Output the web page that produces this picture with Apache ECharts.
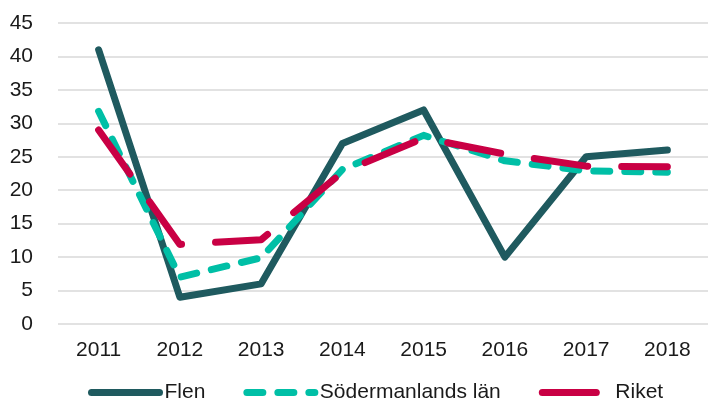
<!DOCTYPE html>
<html>
<head>
<meta charset="utf-8">
<script src="https://cdn.jsdelivr.net/npm/echarts@6/dist/echarts.min.js"></script>
<style>
  html, body { margin: 0; padding: 0; background: #fff; }
  #chart { width: 708px; height: 400px; }
</style>
</head>
<body>
<div id="chart"></div>
<script>
// years on the x axis
var years = ['2011', '2012', '2013', '2014', '2015', '2016', '2017', '2018'];

// values
var flen = [41, 4, 6, 27, 32, 10, 25, 26];
var sormland = [31.8, 7.0, 9.9, 23.1, 28.2, 24.4, 22.9, 22.7];
var riket = [29, 11.9, 12.6, 22.7, 27.8, 25.4, 23.6, 23.5];

var seriesNames = ['Flen', 'Södermanlands län', 'Riket'];

var font = 'Liberation Sans, Arial, sans-serif';

var chart = echarts.init(document.getElementById('chart'));

chart.setOption({
    animation: false,
    backgroundColor: '#fff',
    grid: { left: 58, right: -3, top: 23, bottom: 76 },
    legend: {
        data: seriesNames,
        left: 88,
        top: 382,
        padding: 0,
        itemWidth: 68,
        itemHeight: 14,
        itemGap: 38,
        itemStyle: { opacity: 0 },
        lineStyle: { width: 7 },
        textStyle: { fontFamily: font, fontSize: 21, color: '#1a1a1a' }
    },
    xAxis: {
        type: 'category',
        data: years,
        boundaryGap: true,
        axisLine: { show: false },
        axisTick: { show: false },
        axisLabel: { fontFamily: font, fontSize: 21, color: '#1a1a1a', margin: 16 }
    },
    yAxis: {
        type: 'value',
        min: 0,
        max: 45,
        interval: 5,
        axisLine: { show: false },
        axisTick: { show: false },
        axisLabel: { fontFamily: font, fontSize: 21, color: '#1a1a1a', margin: 25 },
        splitLine: { lineStyle: { color: '#d9d9d9', width: 1.5 } }
    },
    series: [
        {
            name: seriesNames[0],
            type: 'line',
            data: flen,
            symbol: 'none',
            lineStyle: { color: '#1f5a5f', width: 7, cap: 'round', join: 'round' },
            itemStyle: { color: '#1f5a5f' }
        },
        {
            name: seriesNames[1],
            type: 'line',
            data: sormland,
            symbol: 'none',
            lineStyle: { color: '#00bfa6', width: 7, type: [16, 15], cap: 'round', join: 'round' },
            itemStyle: { color: '#00bfa6' }
        },
        {
            name: seriesNames[2],
            type: 'line',
            data: riket,
            symbol: 'none',
            lineStyle: { color: '#c90044', width: 7, type: [54, 34], cap: 'round', join: 'round' },
            itemStyle: { color: '#c90044' }
        }
    ]
});
</script>
</body>
</html>
